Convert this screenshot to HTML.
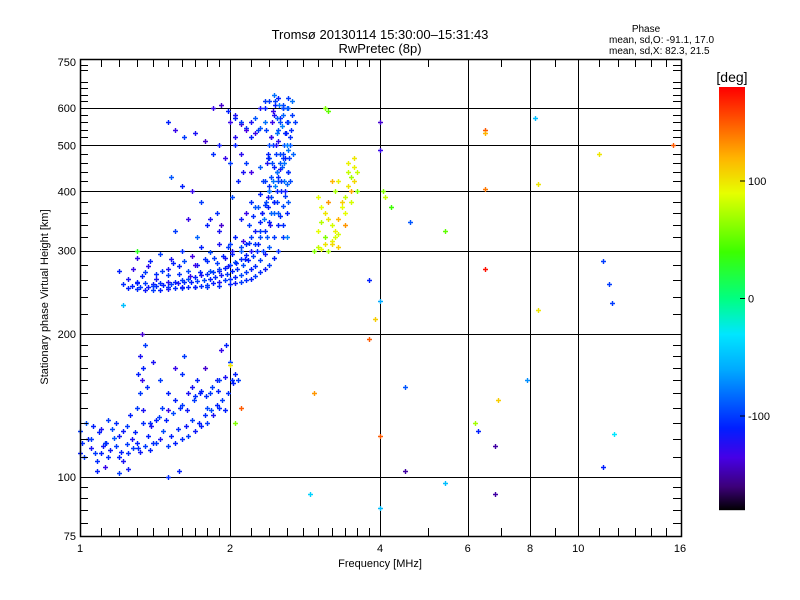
<!DOCTYPE html>
<html><head><meta charset="utf-8"><style>
body{margin:0;background:#fff;}
svg{display:block;font-family:"Liberation Sans",sans-serif;}
</style></head><body>
<svg id="chart" width="800" height="600" viewBox="0 0 800 600" xmlns="http://www.w3.org/2000/svg">
<rect width="800" height="600" fill="#fff"/>
<text x="380" y="39" font-size="13" text-anchor="middle">Tromsø 20130114 15:30:00–15:31:43</text>
<text x="380" y="53" font-size="13" text-anchor="middle">RwPretec (8p)</text>
<text x="646" y="32" font-size="10" text-anchor="middle">Phase</text>
<text x="609" y="43" font-size="10">mean, sd,O:  -91.1, 17.0</text>
<text x="609" y="54" font-size="10">mean, sd,X:  82.3, 21.5</text>
<g id="grid"></g>
<g id="points"></g>
<g id="axes"></g>
<text x="380" y="567" font-size="11" text-anchor="middle">Frequency [MHz]</text>
<text transform="translate(48,297) rotate(-90)" font-size="11" text-anchor="middle">Stationary phase Virtual Height [km]</text>
<g id="cbar"></g>
<text x="732" y="82" font-size="14" text-anchor="middle">[deg]</text>
</svg>
<script>
// ---- data ----
const xTicks = [1,2,4,6,8,10,16];
const yTicks = [75,100,200,300,400,500,600,750];
const gridX = [2,4,6,8,10];
const gridY = [100,200,300,400,500,600];
const cbTicks = [100,0,-100];

const fRow1 = [1.25,1.3,1.35,1.4,1.45,1.5,1.55,1.6,1.65,1.7,1.75,1.8,1.85,1.9,1.95,2.0,2.05,2.1,2.15,2.2,2.25,2.3,2.35,2.4,2.45,2.5,2.52,2.55,2.58,2.6,2.62,2.63,2.64,2.65,2.66];
const hRow1 = [250,249,248,248,248,249,250,250,251,252,253,254,256,258,260,262,264,267,270,274,279,286,295,306,320,340,355,372,392,415,440,470,500,540,580];
const pRow1 = [-110,-105,-115,-100,-110,-120,-105,-100,-110,-115,-105,-100,-110,-120,-100,-105,-110,-95,-100,-110,-105,-100,-115,-90,-100,-110,-105,-95,-100,-85,-110,-100,-90,-105,-100];
const fRow2 = [1.25,1.3,1.35,1.4,1.45,1.5,1.55,1.6,1.65,1.7,1.75,1.8,1.85,1.9,1.95,2.0,2.05,2.1,2.15,2.2,2.25,2.3,2.35,2.4,2.42,2.45,2.48,2.5,2.52,2.55,2.57,2.58,2.6,2.6,2.62];
const hRow2 = [262,258,256,255,256,258,258,260,262,264,266,268,270,272,276,280,284,288,294,300,310,320,330,345,360,380,400,420,445,470,500,530,560,600,630];
const pRow2 = [-120,-110,-100,-115,-105,-125,-110,-100,-95,-110,-120,-105,-100,-115,-110,-100,-90,-105,-110,-120,-100,-95,-105,-110,-85,-100,-110,-95,-120,-100,-90,-105,-110,-80,-100];
const fRow3 = [1.2,1.28,1.35,1.42,1.5,1.58,1.65,1.72,1.8,1.88,1.95,2.02,2.1,2.15,2.2,2.25,2.3,2.32,2.35,2.38,2.4,2.42,2.45,2.47,2.5,2.5,2.52,2.55];
const hRow3 = [272,275,270,268,275,278,272,280,285,282,290,295,300,310,320,330,345,360,375,390,410,430,450,480,510,540,570,600];
const pRow3 = [-110,-130,-100,-105,-120,-110,-95,-115,-105,-100,-120,-110,-90,-105,-100,-115,-110,-85,-100,-120,-105,-95,-110,-100,-125,-90,-105,-110];
const fRow4 = [1.3,1.38,1.45,1.52,1.6,1.68,1.75,1.82,1.9,1.98,2.05,2.12,2.18,2.22,2.28,2.3,2.33,2.37,2.4,2.43,2.46];
const hRow4 = [290,285,295,288,300,292,305,298,310,305,320,315,340,355,370,395,420,460,500,560,610];
const pRow4 = [-130,-110,-100,-120,-105,-135,-110,-95,-120,-100,-110,-130,-100,-105,-90,-110,-100,-120,-95,-130,-110];
const fMid = [1.22,1.27,1.32,1.37,1.42,1.47,1.52,1.57,1.62,1.67,1.72,1.77,1.82,1.87,1.92,1.97,2.02,2.07,2.12,2.17,2.22,2.27];
const hMid = [255,253,252,252,253,254,255,256,257,258,259,260,262,264,266,268,272,275,280,286,292,300];
const pMid = [-105,-110,-100,-115,-105,-110,-100,-120,-105,-110,-100,-95,-110,-105,-115,-100,-110,-105,-95,-110,-100,-105];
const fCol = [2.3,2.34,2.38,2.42,2.46,2.5,2.54,2.58,2.62,2.32,2.36,2.4,2.44,2.48,2.52,2.56,2.6,2.64,2.28,2.33,2.37,2.41,2.45,2.49,2.53,2.57,2.61];
const hCol = [330,350,370,390,410,430,450,470,490,360,380,400,420,440,460,480,500,520,310,300,320,340,360,380,400,420,560];
const pCol = [-100,-80,-110,-95,-75,-105,-90,-110,-80,-115,-95,-100,-80,-110,-90,-100,-75,-105,-110,-100,-90,-120,-85,-100,-110,-80,-95];
const fBand = [2.62,2.66,2.7,2.68,2.64,2.6,2.55,2.5,2.45,2.4,2.35,2.3,2.25,2.2,2.15,2.1,2.05,2.0,1.9,1.8,1.7,1.6,1.5,1.4,1.3,2.56,2.52,2.48,2.44,2.4];
const hBand = [600,620,560,480,420,360,320,300,290,280,275,270,265,262,260,258,256,255,253,252,251,251,252,253,256,580,560,530,500,470];
const pBand = [-90,-80,-100,-85,-95,-110,-100,-105,-110,-100,-115,-105,-100,-110,-105,-100,-115,-110,-105,-100,-110,-115,-105,-100,-110,-85,-95,-80,-100,-90];
const fHook = [2.0,2.05,2.1,2.15,2.2,2.25,2.3,2.35,2.4,2.45,2.5,2.55];
const hHook = [560,570,555,545,560,530,545,600,620,640,630,610];
const pHook = [-130,-110,-140,-100,-120,-130,-90,-110,-100,-80,-110,-95];
const fFill = [2.35,2.4,2.45,2.5,2.55,2.6,2.38,2.43,2.48,2.53,2.58,2.62,2.36,2.42,2.47,2.52,2.57,2.61,2.44,2.49,2.54,2.59,2.46,2.51,2.56,1.33,1.42,1.5,1.58,1.66,1.74,1.82,1.9,1.98,2.06,2.14,1.37,1.46,1.54,1.62,1.7,1.78,1.86,1.94,2.02,2.1,2.18];
const hFill = [420,400,380,360,340,320,480,460,440,420,400,380,540,520,500,480,460,440,590,570,550,530,620,610,600,265,262,266,268,265,270,272,275,278,282,288,278,272,282,285,280,288,290,292,300,305,312];
const pFill = [-100,-80,-110,-90,-105,-75,-110,-95,-80,-100,-115,-90,-100,-85,-120,-95,-80,-105,-130,-90,-75,-110,-100,-80,-95,-110,-120,-100,-105,-130,-110,-95,-100,-115,-105,-110,-125,-100,-110,-95,-130,-105,-100,-110,-120,-95,-105];
const fScat = [1.5,1.55,1.62,1.7,1.78,1.85,1.9,1.95,2.0,2.05,1.52,1.6,1.68,1.75,1.82,1.88,1.92,2.02,2.08,2.12,1.55,1.65,1.72,1.8,1.9,2.0,2.1,2.15,2.2,2.25,1.85,1.92,1.98,2.05,2.1,2.15,2.2,2.25,2.3,2.35,2.05,2.1,2.15,2.2,2.3,2.38,2.42,2.28,2.35,2.45];
const hScat = [560,540,520,530,510,480,500,470,460,520,430,410,400,380,350,360,340,390,420,440,330,350,320,340,330,310,350,360,380,370,600,610,590,580,560,540,520,570,600,620,500,480,460,440,450,470,520,540,560,580];
const pScat = [-110,-130,-100,-120,-140,-105,-115,-130,-100,-125,-90,-110,-130,-100,-120,-105,-140,-95,-110,-120,-100,-130,-85,-110,-120,-100,-115,-130,-105,-90,-130,-140,-110,-120,-100,-135,-110,-90,-120,-100,-110,-125,-100,-135,-90,-110,-130,-100,-80,-120];
const fYel = [2.95,3.0,3.05,3.1,3.15,3.2,3.25,3.3,3.0,3.05,3.1,3.15,3.2,3.25,3.3,3.35,3.4,3.45,3.5,3.55,3.1,3.2,3.3,3.4,3.5,3.55,3.6,3.45,3.35,3.25,3.05,3.15,3.4,3.5,3.3,3.45,3.55,3.6,3.2,3.0];
const hYel = [300,305,302,310,300,315,320,305,330,345,360,380,340,330,350,370,390,410,430,450,320,310,325,360,400,470,440,460,380,400,370,350,340,380,420,440,420,400,420,390];
const pYel = [60,80,90,100,70,95,85,110,90,75,100,130,85,95,120,90,80,100,70,95,60,105,85,90,125,100,80,95,110,70,90,100,130,85,95,80,105,60,120,90];
const fEs = [1.0,1.02,1.05,1.08,1.1,1.12,1.15,1.18,1.2,1.22,1.25,1.28,1.3,1.32,1.35,1.38,1.4,1.45,1.5,1.55,1.6,1.65,1.7,1.75,1.8,1.85,1.9,1.95,1.0,1.03,1.06,1.1,1.14,1.18,1.22,1.26,1.3,1.34,1.38,1.42,1.46,1.5,1.55,1.6,1.65,1.7,1.75,1.8,1.32,1.33,1.34,1.32,1.35,1.33,1.31,1.36,1.4,1.45,1.5,1.55,1.6,1.62,1.68,1.72,1.78,1.82,1.88,1.92,1.96,2.0,2.02,2.05,1.9,1.95,1.08,1.12,1.2,1.25,1.5,1.58];
const hEs = [112,110,115,108,112,118,114,116,110,108,112,115,118,113,116,114,118,120,116,118,120,122,125,128,130,135,140,138,125,130,128,126,132,130,125,135,140,138,130,132,140,138,145,142,150,148,152,140,150,160,170,180,190,200,165,155,175,160,150,170,165,180,155,160,170,150,160,185,190,175,160,165,160,162,103,105,102,104,100,103];
const pEs = [-110,-100,-120,-105,-110,-95,-115,-100,-110,-120,-105,-100,-110,-115,-100,-110,-105,-120,-100,-110,-105,-100,-115,-110,-100,-120,-105,-110,-100,-90,-110,-120,-100,-105,-115,-110,-100,-120,-105,-110,-100,-130,-110,-100,-120,-105,-110,-95,-100,-130,-110,-120,-100,-140,-110,-105,-120,-100,-110,-130,-105,-100,-120,-110,-140,-100,-115,-130,-110,-100,-105,-110,-100,-120,-110,-130,-100,-115,-105,-110];
const fEs2 = [1.01,1.04,1.07,1.11,1.14,1.17,1.21,1.24,1.27,1.31,1.37,1.42,1.47,1.52,1.57,1.63,1.68,1.73,1.78,1.83,1.88,1.93,1.98,2.03,2.08];
const hEs2 = [118,120,112,116,110,121,113,117,120,115,122,118,125,122,126,128,132,130,135,138,142,145,150,158,160];
const pEs2 = [-105,-110,-100,-115,-105,-90,-110,-100,-120,-105,-110,-100,-95,-110,-105,-115,-100,-110,-105,-95,-110,-100,-105,-110,-100];
const fEs3 = [1.05,1.09,1.13,1.16,1.2,1.24,1.29,1.34,1.39,1.44,1.49,1.54,1.59,1.64,1.69,1.74,1.79,1.84,1.89];
const hEs3 = [120,124,118,126,122,128,124,130,128,134,132,136,140,138,145,150,148,155,152];
const pEs3 = [-100,-110,-105,-95,-115,-100,-110,-105,-120,-100,-110,-95,-105,-115,-100,-110,-105,-100,-110];
const fSparse = [6.5,6.5,6.5,6.5,8.2,8.3,8.3,11,15.5,4,4,4.2,4.05,4.1,3.8,3.9,4.6,5.4,4,3.1,3.15,4.5,4.0,4.5,5.4,6.2,6.3,6.8,6.9,6.8,7.9,11.2,11.5,11.7,11.2,11.8,4.0,2.9,2.1,2.0,2.05,2.95,3.8,1.22,1.3];
const hSparse = [540,530,405,275,570,415,225,480,500,490,560,370,400,390,260,215,345,330,235,600,592,155,122,103,97,130,125,116,145,92,160,285,255,233,105,123,86,92,140,172,130,150,195,230,300];
const pSparse = [150,120,140,175,-50,100,100,100,150,-130,-140,40,60,80,-110,110,-90,50,-60,60,50,-90,150,-150,-50,70,-110,-150,110,-150,-70,-100,-100,-100,-110,-30,-50,-40,150,100,60,130,150,-50,30];

const groups = [[fRow1,hRow1,pRow1],[fRow2,hRow2,pRow2],[fRow3,hRow3,pRow3],[fRow4,hRow4,pRow4],[fMid,hMid,pMid],[fCol,hCol,pCol],[fBand,hBand,pBand],[fHook,hHook,pHook],[fFill,hFill,pFill],[fScat,hScat,pScat],[fYel,hYel,pYel],[fEs,hEs,pEs],[fEs2,hEs2,pEs2],[fEs3,hEs3,pEs3],[fSparse,hSparse,pSparse]];

// ---- scales ----
const L=80,R=681,T=59,B=536;
const X = f => L + 150*Math.log2(f);
const Y = h => B - 474*Math.log10(h/75);
const NS='http://www.w3.org/2000/svg';
function mk(tag, attrs, parent){const e=document.createElementNS(NS,tag);for(const k in attrs)e.setAttribute(k,attrs[k]);parent.appendChild(e);return e;}
const stops=[[-180,0,0,0],[-160,60,0,120],[-135,70,0,230],[-110,0,30,255],[-85,0,100,255],[-60,0,170,255],[-30,0,230,255],[0,0,255,130],[40,60,255,0],[90,230,255,0],[120,255,180,0],[150,255,90,0],[180,255,0,0]];
function col(p){p=Math.max(-180,Math.min(180,p));for(let i=1;i<stops.length;i++){if(p<=stops[i][0]){const a=stops[i-1],b=stops[i],t=(p-a[0])/(b[0]-a[0]);return `rgb(${Math.round(a[1]+t*(b[1]-a[1]))},${Math.round(a[2]+t*(b[2]-a[2]))},${Math.round(a[3]+t*(b[3]-a[3]))})`;}}return 'red';}

// grid
const grid=document.getElementById('grid');
gridX.forEach(f=>{const x=Math.round(X(f))+0.5;
const ln=mk('line',{x1:x,x2:x,y1:T,y2:B,stroke:'#000','stroke-width':1},grid);

});
gridY.forEach(h=>{const y=Math.round(Y(h))+0.5;
const ln=mk('line',{x1:L,x2:R,y1:y,y2:y,stroke:'#000','stroke-width':1},grid);

});

// points
const pts=document.getElementById('points');
groups.forEach(g=>{const n=Math.min(g[0].length,g[1].length,g[2].length);
for(let i=0;i<n;i++){const x=Math.round(X(g[0][i])),y=Math.round(Y(g[1][i]));
const e=mk('path',{d:`M${x-2} ${y+0.5}h5M${x+0.5} ${y-2}v5`,stroke:col(g[2][i]),'stroke-width':1.4,fill:'none'},pts);

}});

// axes
const ax=document.getElementById('axes');
mk('rect',{x:L+0.5,y:T+0.5,width:R-L,height:B-T,fill:'none',stroke:'#000','stroke-width':1.5},ax);
const minorX=[1.1,1.2,1.3,1.4,1.5,1.6,1.7,1.8,1.9,2.2,2.4,2.6,2.8,3,3.2,3.4,3.6,3.8,5,7,9,11,12,13,14,15];
minorX.forEach(f=>{const x=Math.round(X(f))+0.5;mk('line',{x1:x,x2:x,y1:B,y2:B-8,stroke:'#000'},ax);mk('line',{x1:x,x2:x,y1:T,y2:T+8,stroke:'#000'},ax);});
const minorY=[];for(let h=80;h<100;h+=5)minorY.push(h);for(let h=110;h<200;h+=10)minorY.push(h);for(let h=220;h<750;h+=20)if(h%100)minorY.push(h);
minorY.forEach(h=>{const y=Math.round(Y(h))+0.5;mk('line',{x1:L,x2:L+8,y1:y,y2:y,stroke:'#000'},ax);mk('line',{x1:R,x2:R-8,y1:y,y2:y,stroke:'#000'},ax);});
xTicks.forEach(f=>{const t=mk('text',{x:X(f),y:B+16,'font-size':11,'text-anchor':'middle'},ax);t.textContent=f;

});
yTicks.forEach(h=>{const t=mk('text',{x:L-4,y:Y(h)+4,'font-size':11,'text-anchor':'end'},ax);t.textContent=h;

});

// colorbar
const cb=document.getElementById('cbar');
const cT=87,cB=510,cL=719,cW=26;
for(let y=cT;y<cB;y++){const p=180-360*(y-cT)/(cB-cT);mk('rect',{x:cL,y:y,width:cW,height:1.2,fill:col(p)},cb);}
cbTicks.forEach(p=>{const y=cT+(180-p)/360*(cB-cT);mk('line',{x1:cL+cW-5,x2:cL+cW,y1:y,y2:y,stroke:'#000'},cb);
const t=mk('text',{x:cL+cW+3,y:y+4,'font-size':11},cb);t.textContent=p;

});
</script>
</body></html>
